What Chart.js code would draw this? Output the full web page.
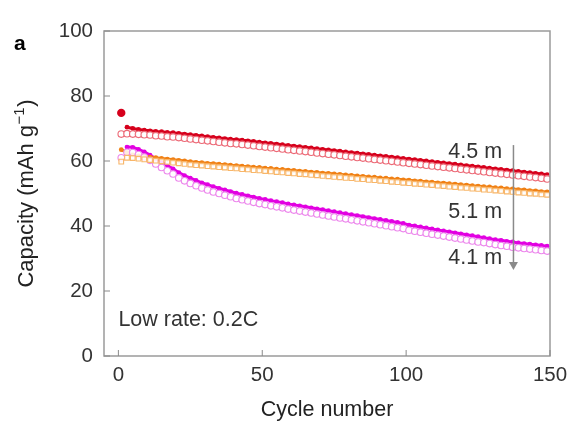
<!DOCTYPE html>
<html><head><meta charset="utf-8">
<script src="https://cdn.jsdelivr.net/npm/chart.js@4"></script>
<style>html,body{margin:0;padding:0;background:#fff;overflow:hidden}#wrap{width:571px;height:423px}</style>
</head><body><div id="wrap"><canvas id="c" width="571" height="423"></canvas></div>
<script>
const cycles = [1,3,5,7,9,11,13,15,17,19,21,23,25,27,29,31,33,35,37,39,41,43,45,47,49,51,53,55,57,59,61,63,65,67,69,71,73,75,77,79,81,83,85,87,89,91,93,95,97,99,101,103,105,107,109,111,113,115,117,119,121,123,125,127,129,131,133,135,137,139,141,143,145,147,149];
const redFirstCycle = [74.8];
const redOpen = [68.3,68.4,68.3,68.2,68.1,68.0,67.8,67.7,67.5,67.4, 67.2,67.0,66.8,66.6,66.4,66.2,66.0,65.8,65.6,65.4, 65.3,65.1,64.9,64.7,64.5,64.3,64.1,63.9,63.7,63.5, 63.3,63.1,62.9,62.7,62.5,62.3,62.1,61.9,61.7,61.5, 61.3,61.1,60.9,60.7,60.5,60.3,60.1,59.9,59.7,59.5, 59.3,59.1,58.9,58.7,58.5,58.3,58.1,57.9,57.7,57.5, 57.3,57.1,56.9,56.7,56.5,56.3,56.1,55.9,55.7,55.5, 55.3,55.1,54.9,54.7,54.5];
const redFilled = [null,70.4,70.0,69.7,69.5,69.3,69.1,69.0,68.8,68.7, 68.5,68.3,68.1,67.9,67.7,67.5,67.3,67.1,66.9,66.7, 66.6,66.4,66.2,66.0,65.8,65.6,65.4,65.2,65.0,64.8, 64.6,64.4,64.2,64.0,63.8,63.6,63.4,63.2,63.0,62.8, 62.6,62.4,62.2,62.0,61.8,61.6,61.4,61.2,61.0,60.8, 60.6,60.4,60.2,60.0,59.8,59.6,59.4,59.2,59.0,58.8, 58.6,58.4,58.2,58.0,57.8,57.6,57.4,57.2,57.0,56.8, 56.6,56.4,56.2,56.0,55.8];
const orangeOpen = [59.8,61.0,60.9,60.7,60.5,60.3,60.1,59.9,59.7,59.5, 59.3,59.1,58.9,58.7,58.6,58.4,58.3,58.1,58.0,57.8, 57.7,57.5,57.4,57.2,57.1,56.9,56.8,56.6,56.5,56.3, 56.2,56.0,55.9,55.7,55.6,55.4,55.3,55.1,55.0,54.8, 54.7,54.5,54.4,54.2,54.1,53.9,53.8,53.6,53.5,53.3, 53.2,53.0,52.9,52.7,52.6,52.4,52.3,52.1,52.0,51.8, 51.7,51.5,51.4,51.2,51.1,50.9,50.8,50.6,50.5,50.3, 50.2,50.0,49.9,49.7,49.6];
const orangeFilled = [63.5,62.6,61.9,61.6,61.4,61.2,61.0,60.8,60.6,60.4, 60.2,60.0,59.8,59.6,59.5,59.3,59.2,59.0,58.9,58.7, 58.6,58.4,58.3,58.1,58.0,57.8,57.7,57.5,57.4,57.2, 57.1,56.9,56.8,56.6,56.5,56.3,56.2,56.0,55.9,55.7, 55.6,55.4,55.3,55.1,55.0,54.8,54.7,54.5,54.4,54.2, 54.1,53.9,53.8,53.6,53.5,53.3,53.2,53.0,52.9,52.7, 52.6,52.4,52.3,52.1,52.0,51.8,51.7,51.5,51.4,51.2, 51.1,50.9,50.8,50.6,50.5];
const magentaFilled = [null,64.3,64.2,63.6,62.8,61.8,60.7,59.6,58.6,57.6, 56.4,55.5,54.7,54.0,53.3,52.7,52.1,51.6,51.1,50.6, 50.1,49.7,49.3,48.9,48.5,48.2,47.8,47.5,47.2,46.8, 46.5,46.2,45.9,45.6,45.3,45.0,44.7,44.4,44.1,43.8, 43.5,43.2,42.9,42.6,42.3,42.0,41.7,41.4,41.1,40.8, 40.3,40.0,39.7,39.4,39.1,38.8,38.5,38.2,37.9,37.6, 37.3,37.0,36.7,36.4,36.1,35.8,35.6,35.3,35.1,34.8, 34.6,34.4,34.2,34.0,33.8];
const magentaOpen = [61.0,62.7,62.6,62.0,61.2,60.2,59.1,58.0,57.0,56.0, 54.8,53.9,53.1,52.4,51.7,51.1,50.5,50.0,49.5,49.0, 48.5,48.1,47.7,47.3,46.9,46.6,46.2,45.9,45.6,45.2, 44.9,44.6,44.3,44.0,43.7,43.4,43.1,42.8,42.5,42.2, 41.9,41.6,41.3,41.0,40.7,40.4,40.1,39.8,39.5,39.2, 38.7,38.4,38.1,37.8,37.5,37.2,36.9,36.6,36.3,36.0, 35.7,35.4,35.1,34.9,34.6,34.3,34.0,33.8,33.5,33.3, 33.1,32.9,32.7,32.5,32.3];
const yTicks = [0,20,40,60,80,100];
const xTicks = [0,50,100,150];
const seriesLabels = ['4.5 m','5.1 m','4.1 m'];
const noteText = 'Low rate: 0.2C';
const yTitleMain = 'Capacity (mAh g';
const yTitleSup = '−1';
const yTitleEnd = ')';

const pts = arr => cycles.map((c,i)=>({x:c,y:arr[i]}));
const FONT = "'Liberation Sans', Arial, sans-serif";

const annot = {
  id:'annot',
  afterDatasetsDraw(chart){
    const {ctx, chartArea:a, scales:{x,y}} = chart;
    ctx.save();
    ctx.strokeStyle='#9a9a9a'; ctx.lineWidth=1.5;
    ctx.strokeRect(a.left, a.top, a.right-a.left, a.bottom-a.top);
    ctx.strokeStyle='#8a8a8a'; ctx.lineWidth=1;
    yTicks.forEach(v=>{const py=y.getPixelForValue(v); ctx.beginPath(); ctx.moveTo(a.left,py); ctx.lineTo(a.left+6,py); ctx.stroke();});
    xTicks.forEach(v=>{const px=x.getPixelForValue(v); ctx.beginPath(); ctx.moveTo(px,a.bottom); ctx.lineTo(px,a.bottom-6); ctx.stroke();});
    ctx.fillStyle='#333'; ctx.font='21.5px '+FONT; ctx.textAlign='center'; ctx.textBaseline='middle';
    ctx.fillText(seriesLabels[0], x.getPixelForValue(124), y.getPixelForValue(62.6));
    ctx.fillText(seriesLabels[1], x.getPixelForValue(124), y.getPixelForValue(44.2));
    ctx.fillText(seriesLabels[2], x.getPixelForValue(124), y.getPixelForValue(30.0));
    ctx.textAlign='left';
    ctx.fillText(noteText, x.getPixelForValue(0), y.getPixelForValue(11));
    const ax=x.getPixelForValue(137.3), y1=y.getPixelForValue(64.9), y2=y.getPixelForValue(26.5);
    ctx.strokeStyle='#8a8a8a'; ctx.fillStyle='#8a8a8a'; ctx.lineWidth=1.5;
    ctx.beginPath(); ctx.moveTo(ax,y1); ctx.lineTo(ax,y2-6); ctx.stroke();
    ctx.beginPath(); ctx.moveTo(ax-4.5,y2-8); ctx.lineTo(ax+4.5,y2-8); ctx.lineTo(ax,y2); ctx.closePath(); ctx.fill();
    // y-axis title with superscript
    ctx.fillStyle='#222';
    const fMain='22px '+FONT, fSup='15px '+FONT;
    ctx.font=fMain; const w1=ctx.measureText(yTitleMain).width, w3=ctx.measureText(yTitleEnd).width;
    ctx.font=fSup; const w2=ctx.measureText(yTitleSup).width+1;
    const tot=w1+w2+w3;
    ctx.translate(27,(a.top+a.bottom)/2); ctx.rotate(-Math.PI/2);
    ctx.textAlign='left'; ctx.textBaseline='middle';
    let sx=-tot/2;
    ctx.font=fMain; ctx.fillText(yTitleMain, sx, 0); sx+=w1;
    ctx.font=fSup; ctx.fillText(yTitleSup, sx+0.5, -7); sx+=w2;
    ctx.font=fMain; ctx.fillText(yTitleEnd, sx, 0);
    ctx.setTransform(1,0,0,1,0,0);
    ctx.fillStyle='#000'; ctx.font='bold 21px '+FONT; ctx.textAlign='left'; ctx.textBaseline='middle';
    ctx.fillText('a', 14, 44);
    ctx.restore();
  }
};

const openDs = (label, arr, color, style) => ({label, data:pts(arr), showLine:false, pointStyle:style, pointRadius:3.3, pointBorderWidth:1.1, pointBackgroundColor:'rgba(255,255,255,0.85)', pointBorderColor:color});
const fillDs = (label, arr, color) => ({label, data:pts(arr), showLine:true, borderColor:color, borderWidth:3, spanGaps:false, pointStyle:'circle', pointRadius:2.4, pointBorderWidth:0, pointBackgroundColor:color, pointBorderColor:color});

new Chart(document.getElementById('c'), {
  type:'scatter',
  data:{datasets:[
    openDs('4.5 m open', redOpen, 'rgb(236,105,118)', 'circle'),
    openDs('5.1 m open', orangeOpen, 'rgb(248,182,105)', 'rect'),
    openDs('4.1 m open', magentaOpen, 'rgb(236,135,236)', 'circle'),
    fillDs('4.5 m', redFilled, 'rgb(214,0,28)'),
    fillDs('5.1 m', orangeFilled, 'rgb(240,128,20)'),
    fillDs('4.1 m', magentaFilled, 'rgb(226,0,226)'),
    {label:'4.5 m first', data:[{x:cycles[0], y:redFirstCycle[0]}], showLine:false, pointRadius:4.2, pointBorderWidth:0, pointBackgroundColor:'rgb(214,0,28)'}
  ]},
  options:{
    responsive:false, animation:false, devicePixelRatio:1,
    layout:{padding:{left:0,right:21,top:31,bottom:0}},
    plugins:{legend:{display:false}, tooltip:{enabled:false}},
    scales:{
      x:{type:'linear', min:-5, max:150,
        afterFit(s){s.height=67; s.paddingLeft=0; s.paddingRight=0;},
        afterBuildTicks(s){s.ticks=xTicks.map(v=>({value:v}));},
        grid:{display:false, drawTicks:false}, border:{display:false},
        ticks:{padding:7, color:'#333', font:{family:FONT,size:20.5}, maxRotation:0},
        title:{display:true, text:'Cycle number', color:'#222', font:{family:FONT,size:21.5}, padding:{top:0,bottom:0}}
      },
      y:{min:0, max:100,
        afterFit(s){s.width=104; s.paddingTop=0; s.paddingBottom=0;},
        afterBuildTicks(s){s.ticks=yTicks.map(v=>({value:v}));},
        grid:{display:false, drawTicks:false}, border:{display:false},
        ticks:{padding:11, color:'#333', font:{family:FONT,size:20.5}},
        title:{display:false}
      }
    }
  },
  plugins:[annot]
});
</script></body></html>
